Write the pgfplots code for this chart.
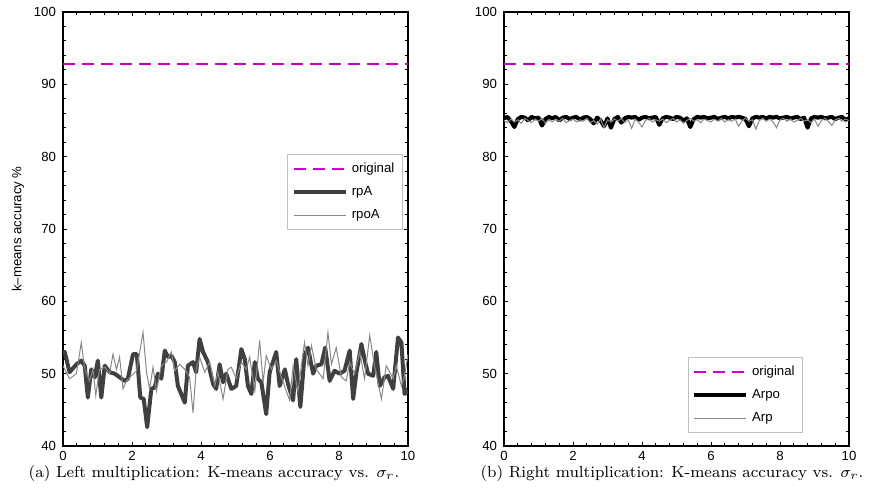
\documentclass[border=0pt]{standalone}
\usepackage{fontspec}
\usepackage{pgfplots}
\pgfplotsset{compat=1.18}
\newfontfamily\arial{Liberation Sans}
\definecolor{mag}{RGB}{204,0,204}
\definecolor{dgray}{RGB}{64,64,64}
\definecolor{lgray}{RGB}{136,136,136}
\definecolor{lbox}{RGB}{192,192,192}
\pgfplotsset{myax/.style={
  scale only axis, width=172.5pt, height=217pt,
  xmin=0, xmax=10, ymin=40, ymax=100,
  xtick={0,2,...,10}, ytick={40,50,...,100},
  minor x tick num=4, minor y tick num=4,
  tick align=inside, major tick length=2.2pt, minor tick length=1.3pt,
  axis line style={line width=0.6pt},
  every tick/.style={black, line width=0.45pt},
  tick label style={font=\arial\fontsize{6.6}{7.5}\selectfont},
  /pgf/number format/assume math mode=true,
  xticklabel style={yshift=1pt},
  legend style={draw=lbox, line width=0.5pt, font=\arial\fontsize{6.6}{7.5}\selectfont,
    cells={anchor=west}, inner xsep=2pt, inner ysep=2pt, row sep=1.5pt},
  legend image code/.code={\draw[#1] (0pt,0pt) -- (26pt,0pt);},
  anchor=south west,
}}
\begin{document}
\begin{tikzpicture}
\useasboundingbox (0,0) rectangle (440pt,247.5pt);
\begin{axis}[myax, at={(31.5pt,24.5pt)},
  ylabel={k\textendash means accuracy \%},
  ylabel style={font=\arial\fontsize{6.6}{7.5}\selectfont, yshift=-2pt},
  legend style={at={(0.985,0.498)}, anchor=south east}]
\addplot[mag, line width=0.8pt, dash pattern=on 6pt off 3.5pt] coordinates {(0,92.8) (10,92.8)};
\addlegendentry{original}
\addplot[dgray, line width=2pt, line join=round] coordinates {
(0,52.9)(0.05,53.0)(0.19,50.2)(0.39,51.3)(0.53,51.8)(0.63,51.1)(0.72,46.7)(0.82,50.6)(0.92,49.5)(1.01,51.8)
(1.11,46.7)(1.21,51.1)(1.35,50.2)(1.50,50.0)(1.64,49.5)(1.79,49.0)(1.88,49.3)(2.03,52.7)(2.14,52.7)(2.24,46.7)
(2.34,46.5)(2.44,42.6)(2.56,47.9)(2.66,48.1)(2.75,50.0)(2.85,49.3)(2.95,53.2)(3.04,52.3)(3.14,52.5)(3.24,51.6)
(3.33,48.3)(3.53,46.0)(3.62,51.1)(3.77,51.6)(3.86,50.2)(3.96,54.8)(4.06,53.0)(4.20,51.6)(4.35,48.6)(4.44,47.9)
(4.54,51.3)(4.64,48.8)(4.73,50.0)(4.88,47.9)(5.02,48.3)(5.17,53.4)(5.27,52.0)(5.36,48.3)(5.46,47.2)(5.56,51.6)
(5.65,49.3)(5.75,48.8)(5.89,44.4)(5.99,50.2)(6.18,53.0)(6.28,48.3)(6.43,50.6)(6.52,48.6)(6.67,46.3)(6.76,52.0)
(6.88,45.4)(7.00,52.5)(7.10,53.6)(7.25,50.0)(7.34,51.1)(7.49,51.3)(7.60,53.6)(7.73,49.0)(7.87,50.4)(8.02,50.0)
(8.16,50.4)(8.31,53.2)(8.41,46.5)(8.50,50.0)(8.65,54.1)(8.74,52.0)(8.84,50.0)(8.99,49.7)(9.08,53.0)(9.18,48.3)
(9.32,49.5)(9.42,49.7)(9.57,47.9)(9.71,55.0)(9.81,54.3)(9.90,47.2)(10.0,47.6)};
\addlegendentry{rpA}
\addplot[lgray, line width=0.5pt] coordinates {
(0,51.1)(0.19,49.3)(0.39,50.0)(0.53,54.3)(0.63,50.6)(0.77,49.0)(0.87,50.6)(0.95,47.0)(1.06,50.6)(1.21,50.9)
(1.35,50.0)(1.45,52.7)(1.55,50.6)(1.64,52.3)(1.74,47.9)(1.84,49.0)(1.98,49.7)(2.13,50.4)(2.32,55.7)(2.42,50.2)
(2.51,47.9)(2.61,50.9)(2.71,47.6)(2.85,51.1)(3.00,51.6)(3.14,53.0)(3.24,50.4)(3.38,51.3)(3.53,50.6)(3.67,49.5)
(3.77,44.6)(3.86,50.6)(3.96,52.3)(4.11,50.2)(4.25,51.6)(4.40,48.3)(4.49,50.2)(4.64,46.5)(4.78,50.6)(4.88,50.9)
(5.02,49.3)(5.17,51.6)(5.31,50.6)(5.41,52.3)(5.56,47.6)(5.70,54.6)(5.80,48.8)(5.89,52.5)(6.04,50.6)(6.18,51.8)
(6.33,49.5)(6.57,46.3)(6.67,51.1)(6.81,47.6)(7.00,54.3)(7.10,51.1)(7.20,53.9)(7.34,50.6)(7.54,49.3)(7.68,55.7)
(7.78,51.3)(7.92,53.6)(8.07,49.5)(8.21,49.0)(8.31,51.6)(8.45,50.0)(8.60,53.0)(8.74,49.3)(8.89,55.3)(9.03,51.1)
(9.23,46.5)(9.37,51.1)(9.57,49.3)(9.66,51.1)(9.81,48.3)(9.90,49.7)(10.0,52.7)};
\addlegendentry{rpoA}
\end{axis}
\begin{axis}[myax, at={(252pt,24.5pt)},
  legend style={at={(0.867,0.03)}, anchor=south east}]
\addplot[mag, line width=0.8pt, dash pattern=on 6pt off 3.5pt] coordinates {(0,92.8) (10,92.8)};
\addlegendentry{original}
\addplot[black, line width=2pt, line join=round] coordinates {
(0,85.3)(0.1,85.5)(0.2,84.9)(0.3,84.1)(0.4,85.2)(0.5,85.5)(0.6,85.4)(0.7,85.0)(0.8,85.5)(0.9,85.3)
(1.0,85.4)(1.1,84.3)(1.2,85.2)(1.3,85.5)(1.4,85.3)(1.5,85.5)(1.6,85.0)(1.7,85.4)(1.8,85.5)(1.9,85.2)
(2.0,85.4)(2.1,85.5)(2.2,85.1)(2.3,85.4)(2.4,85.5)(2.5,85.2)(2.6,84.6)(2.7,85.4)(2.8,85.0)(2.9,84.2)
(3.0,85.3)(3.1,84.0)(3.2,85.2)(3.3,85.5)(3.4,84.7)(3.5,85.3)(3.6,85.5)(3.7,85.4)(3.8,85.5)(3.9,85.1)
(4.0,85.4)(4.1,85.5)(4.2,85.3)(4.3,85.4)(4.4,85.5)(4.5,84.4)(4.6,85.3)(4.7,85.5)(4.8,85.4)(4.9,85.2)
(5.0,85.5)(5.1,85.4)(5.2,85.0)(5.3,85.3)(5.4,84.1)(5.5,85.2)(5.6,85.5)(5.7,85.4)(5.8,85.5)(5.9,85.3)
(6.0,85.4)(6.1,85.5)(6.2,85.2)(6.3,85.4)(6.4,85.5)(6.5,85.3)(6.6,85.5)(6.7,85.4)(6.8,85.5)(6.9,85.4)
(7.0,85.2)(7.1,84.2)(7.2,85.3)(7.3,85.5)(7.4,85.4)(7.5,85.5)(7.6,85.3)(7.7,85.5)(7.8,85.4)(7.9,85.5)
(8.0,85.3)(8.1,85.4)(8.2,85.5)(8.3,85.3)(8.4,85.4)(8.5,85.5)(8.6,85.2)(8.7,85.4)(8.8,84.0)(8.9,85.3)
(9.0,85.5)(9.1,85.4)(9.2,85.5)(9.3,85.3)(9.4,85.4)(9.5,85.5)(9.6,85.2)(9.7,85.4)(9.8,85.5)(9.9,85.1)(10,85.3)};
\addlegendentry{Arpo}
\addplot[lgray, line width=0.5pt] coordinates {
(0,85.0)(0.1,84.7)(0.2,85.2)(0.3,84.8)(0.4,85.1)(0.5,84.6)(0.6,85.3)(0.7,85.0)(0.8,84.7)(0.9,85.2)
(1.0,84.9)(1.1,85.3)(1.2,84.6)(1.3,85.1)(1.4,84.8)(1.5,85.2)(1.6,84.9)(1.7,85.3)(1.8,84.7)(1.9,85.0)
(2.0,85.2)(2.1,84.8)(2.2,85.1)(2.3,84.9)(2.4,85.3)(2.5,84.7)(2.6,85.0)(2.7,84.5)(2.8,85.2)(2.9,84.0)
(3.0,85.1)(3.1,84.8)(3.2,85.2)(3.3,84.9)(3.4,85.3)(3.5,84.7)(3.6,85.1)(3.7,83.9)(3.8,85.2)(3.9,84.8)
(4.0,84.1)(4.1,85.0)(4.2,85.3)(4.3,84.8)(4.4,85.1)(4.5,84.9)(4.6,85.2)(4.7,84.7)(4.8,85.0)(4.9,85.3)
(5.0,84.8)(5.1,85.1)(5.2,84.6)(5.3,85.0)(5.4,85.3)(5.5,84.9)(5.6,85.1)(5.7,84.7)(5.8,85.2)(5.9,85.0)
(6.0,84.8)(6.1,85.2)(6.2,84.9)(6.3,85.3)(6.4,84.8)(6.5,85.1)(6.6,84.9)(6.7,85.2)(6.8,84.2)(6.9,85.0)
(7.0,85.3)(7.1,84.9)(7.2,85.1)(7.3,83.8)(7.4,85.0)(7.5,85.3)(7.6,84.9)(7.7,85.2)(7.8,84.8)(7.9,84.0)
(8.0,85.1)(8.1,85.3)(8.2,84.9)(8.3,85.2)(8.4,84.8)(8.5,85.0)(8.6,85.3)(8.7,84.9)(8.8,85.1)(8.9,84.7)
(9.0,85.2)(9.1,84.2)(9.2,85.0)(9.3,85.3)(9.4,84.9)(9.5,84.3)(9.6,85.1)(9.7,85.3)(9.8,84.9)(9.9,85.2)(10,85.0)};
\addlegendentry{Arp}
\end{axis}
\node[font=\fontsize{8}{9.6}\selectfont] at (107pt,11pt) {(a) Left multiplication: K-means accuracy vs. $\sigma_r$.};
\node[font=\fontsize{8}{9.6}\selectfont] at (336pt,11pt) {(b) Right multiplication: K-means accuracy vs. $\sigma_r$.};
\end{tikzpicture}
\end{document}
